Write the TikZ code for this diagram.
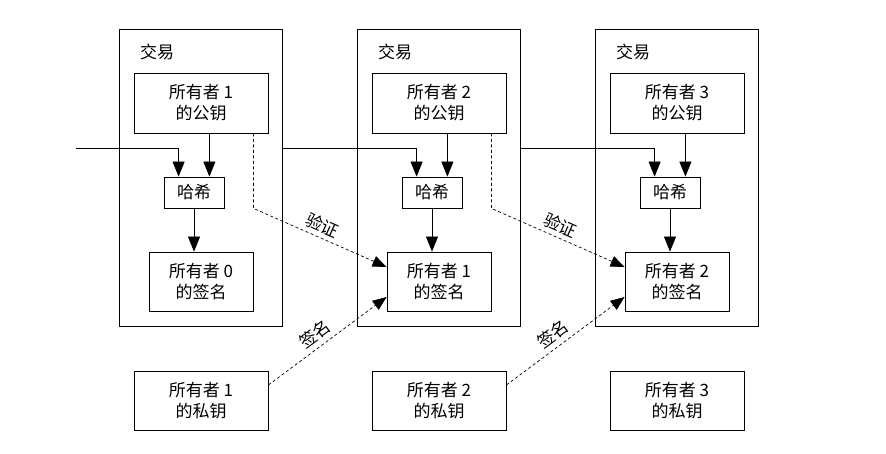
\documentclass[tikz,border=0pt]{standalone}
\usepackage{fontspec}
\setmainfont{Noto Sans CJK SC}
\usetikzlibrary{arrows.meta,calc}

\tikzset{
  every node/.style={font=\fontsize{17}{21}\selectfont},
  txbox/.style={draw,line width=0.8pt,minimum width=163,minimum height=297},
  txlabel/.style={anchor=west,inner sep=0pt},
  keybox/.style={draw,line width=0.8pt,align=center,minimum width=134,minimum height=60},
  hashbox/.style={draw,line width=0.8pt,minimum width=60,minimum height=31,inner sep=0pt},
  sigbox/.style={draw,line width=0.8pt,align=center,minimum width=104,minimum height=59},
  arr/.style={line width=0.7pt,-{Triangle[length=15pt,width=12pt]}},
  dasharr/.style={line width=0.7pt,dash pattern=on 3pt off 2.5pt,-{Triangle[length=14pt,width=11pt]}},
}

\begin{document}
\begin{tikzpicture}[x=1pt,y=1pt]
\path[use as bounding box,fill=white] (0,0) rectangle (886,454);

% one column for each transaction
\foreach \i/\c/\p in {1/201/0,2/439/1,3/677/2}{
  \node[txbox] (tx\i) at (\c,276.5) {};
  \node[txlabel] (lbl\i) at (\c-61,402) {交易};
  \node[keybox] (pub\i) at (\c,351) {所有者 \i\\的公钥};
  \node[hashbox] (hash\i) at (\c-7,261.5) {哈希};
  \node[sigbox] (sig\i) at (\c,172.5) {所有者 \p\\的签名};
  \node[keybox,minimum height=59] (priv\i) at (\c,53.5) {所有者 \i\\的私钥};
}

% hashing inside each transaction
\foreach \i in {1,2,3}{
  \coordinate (ha\i) at ($(hash\i.north west)+(15,0)$);
  \coordinate (hb\i) at ($(hash\i.north east)+(-15,0)$);
  \draw[arr] (pub\i.south -| hb\i) -- (hb\i);
  \draw[arr] (hash\i.south) -- (hash\i.south |- sig\i.north);
}

% chain from one transaction to the next
\coordinate (in) at (76,306);
\draw[arr] (in) -| (ha1);
\draw[arr] (in -| tx1.east) -| (ha2);
\draw[arr] (in -| tx2.east) -| (ha3);

% verify and sign
\foreach \i/\j in {1/2,2/3}{
  \coordinate (vs\i) at ($(pub\i.south east)+(-15,0)$);
  \coordinate (vt\j) at ($(sig\j.west)+(0,14.5)$);
  \draw[dasharr] (vs\i) -- ++(0,-75) -- (vt\j)
    node[pos=0.48,sloped,above,inner sep=4pt] {验证};
  \coordinate (ss\i) at ($(priv\i.east)+(0,15.5)$);
  \coordinate (st\j) at ($(sig\j.west)+(0,-15.5)$);
  \draw[dasharr] (ss\i) -- (st\j)
    node[pos=0.46,sloped,above,inner sep=5pt] {签名};
}
\end{tikzpicture}
\end{document}
